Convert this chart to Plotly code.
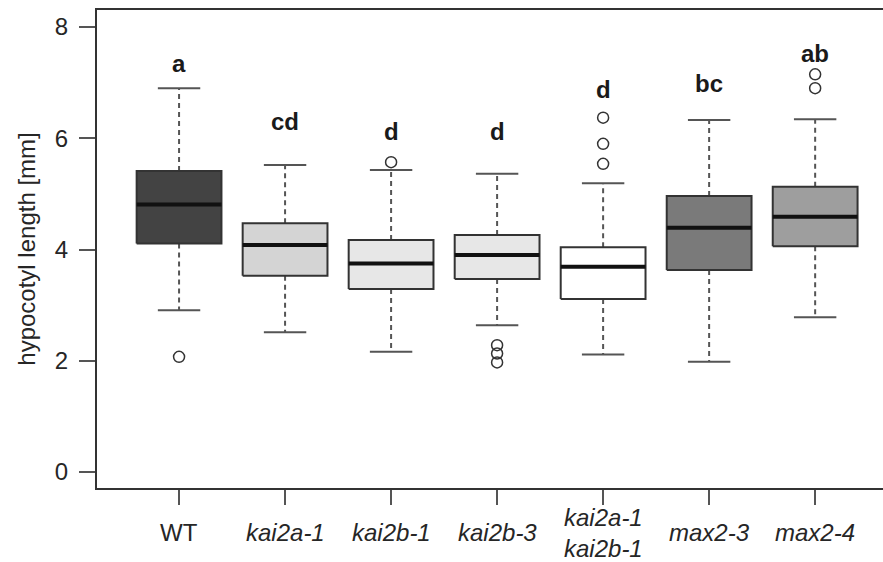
import plotly.graph_objects as go

# ---- data ----
categories = ["WT", "<i>kai2a-1</i>", "<i>kai2b-1</i>", "<i>kai2b-3</i>",
              "<i>kai2a-1</i><br><i>kai2b-1</i>", "<i>max2-3</i>", "<i>max2-4</i>"]
lower_whisker = [2.91, 2.51, 2.16, 2.64, 2.11, 1.98, 2.78]
q1 = [4.11, 3.53, 3.29, 3.47, 3.11, 3.63, 4.06]
median = [4.81, 4.08, 3.75, 3.90, 3.69, 4.39, 4.59]
q3 = [5.41, 4.47, 4.17, 4.26, 4.04, 4.96, 5.13]
upper_whisker = [6.90, 5.52, 5.43, 5.36, 5.19, 6.33, 6.34]
outliers = [[2.07], [], [5.57], [2.28, 2.13, 1.97], [6.37, 5.90, 5.54], [], [7.15, 6.90]]
letters = ["a", "cd", "d", "d", "d", "bc", "ab"]
letter_y = [7.35, 6.30, 6.12, 6.12, 6.87, 6.99, 7.53]
fill_colors = ["#434343", "#d4d4d4", "#e7e7e7", "#e7e7e7", "#ffffff", "#7a7a7a", "#9e9e9e"]
y_ticks = [0, 2, 4, 6, 8]

FONT = "Liberation Sans, Arial, sans-serif"
BOXW = 0.4   # half width
CAPW = 0.2
fig = go.Figure()

for i, cat in enumerate(categories):
    x = i + 1
    # whiskers (dashed)
    fig.add_trace(go.Scatter(x=[x, x], y=[q3[i], upper_whisker[i]], mode="lines",
                             line=dict(color="#555555", width=2, dash="5px,4px"),
                             showlegend=False, hoverinfo="skip"))
    fig.add_trace(go.Scatter(x=[x, x], y=[q1[i], lower_whisker[i]], mode="lines",
                             line=dict(color="#555555", width=2, dash="5px,4px"),
                             showlegend=False, hoverinfo="skip"))
    # caps
    for v in (upper_whisker[i], lower_whisker[i]):
        fig.add_trace(go.Scatter(x=[x - CAPW, x + CAPW], y=[v, v], mode="lines",
                                 line=dict(color="#555555", width=2),
                                 showlegend=False, hoverinfo="skip"))
    # box
    fig.add_trace(go.Scatter(x=[x - BOXW, x + BOXW, x + BOXW, x - BOXW, x - BOXW],
                             y=[q1[i], q1[i], q3[i], q3[i], q1[i]], mode="lines",
                             fill="toself", fillcolor=fill_colors[i],
                             line=dict(color="#333333", width=2),
                             showlegend=False, hoverinfo="skip"))
    # median
    fig.add_trace(go.Scatter(x=[x - BOXW, x + BOXW], y=[median[i], median[i]], mode="lines",
                             line=dict(color="#111111", width=4),
                             showlegend=False, hoverinfo="skip"))
    # outliers
    if outliers[i]:
        fig.add_trace(go.Scatter(x=[x] * len(outliers[i]), y=outliers[i], mode="markers",
                                 marker=dict(symbol="circle-open", size=11,
                                             line=dict(color="#333333", width=1.5),
                                             color="#333333"),
                                 showlegend=False, hoverinfo="skip"))
    # significance letter
    fig.add_annotation(x=x, y=letter_y[i], text="<b>" + letters[i] + "</b>", showarrow=False,
                       font=dict(family=FONT, size=24, color="#1a1a1a"),
                       xanchor="center", yanchor="middle")
    # category label
    fig.add_annotation(x=x, y=-0.094, xref="x", yref="paper", text=cat, showarrow=False,
                       font=dict(family=FONT, size=24, color="#262626"),
                       xanchor="center", yanchor="middle", borderpad=0)

fig.update_layout(
    width=883, height=562,
    margin=dict(l=97, r=0, t=10, b=74),
    plot_bgcolor="white", paper_bgcolor="white",
    font=dict(family=FONT, size=24, color="#262626"),
    xaxis=dict(range=[0.226, 7.64], tickvals=list(range(1, len(categories) + 1)),
               showticklabels=False, ticks="outside", ticklen=15, tickwidth=2,
               tickcolor="#555555", showline=True, linecolor="#333333", linewidth=2,
               mirror=True, showgrid=False, zeroline=False),
    yaxis=dict(range=[-0.288, 8.306], tickvals=y_ticks, ticks="outside", ticklen=16,
               tickwidth=2, tickcolor="#555555", showline=True, linecolor="#333333",
               linewidth=2, showgrid=False, zeroline=False,
               tickfont=dict(family=FONT, size=24, color="#262626"),
               ticklabelstandoff=6,
               title=dict(text="hypocotyl length [mm]", standoff=12,
                          font=dict(family=FONT, size=24, color="#262626"))),
)

fig.write_html("out.html")
